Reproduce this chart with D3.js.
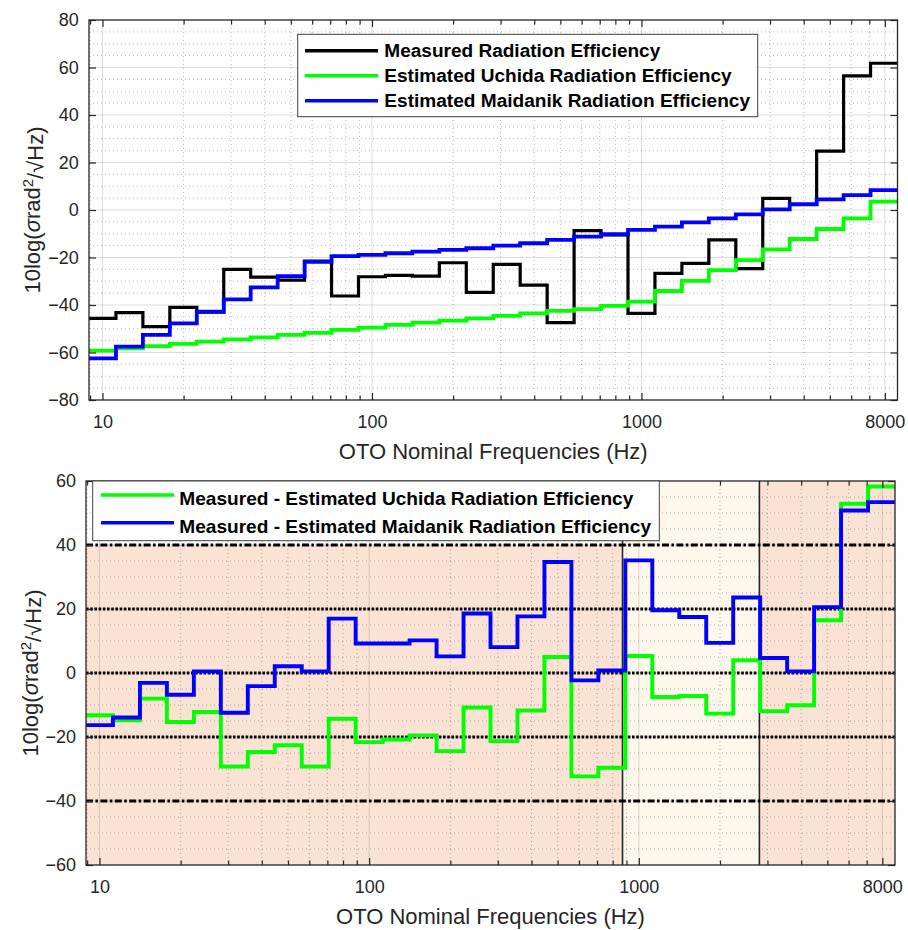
<!DOCTYPE html>
<html>
<head>
<meta charset="utf-8">
<script src="https://cdn.jsdelivr.net/npm/d3@7/dist/d3.min.js"></script>
<style>
  body { margin: 0; background: #fff; }
  svg { display: block; }
  text { font-family: "Liberation Sans", Arial, Helvetica, sans-serif; }
</style>
</head>
<body>
<svg id="chart" width="908" height="930"></svg>
<script>
// One-third octave bands (nominal centre frequencies, Hz)
const bands = ["10","12.5","16","20","25","31.5","40","50","63","80","100","125","160","200","250","315","400","500","630","800","1000","1250","1600","2000","2500","3150","4000","5000","6300","8000"];

// Upper panel: radiation efficiency, 10log(sigma) per band
const measured = [-45.6,-43.2,-49.1,-41.0,-43.0,-25.0,-28.3,-29.5,-21.5,-36.2,-28.1,-27.5,-27.8,-22.2,-34.7,-22.9,-31.6,-47.4,-8.7,-10.5,-43.5,-26.7,-22.5,-12.6,-24.7,4.9,2.3,24.8,56.5,61.8];
const uchida   = [-59.2,-58.2,-57.3,-56.4,-55.4,-54.5,-53.6,-52.6,-51.7,-50.5,-49.5,-48.4,-47.4,-46.6,-45.6,-44.6,-43.5,-42.5,-41.7,-40.4,-38.6,-34.1,-29.8,-25.3,-21.1,-16.6,-12.2,-8.0,-3.5,3.5];
const maidanik = [-62.5,-57.5,-52.6,-47.7,-42.8,-37.6,-32.6,-27.8,-21.8,-19.4,-18.9,-18.2,-17.5,-16.8,-16.1,-15.0,-14.0,-12.6,-11.2,-10.2,-8.4,-7.0,-5.2,-3.5,-1.8,0.3,2.5,4.5,6.3,8.4];

// Lower panel: differences per band
const diffUchida   = [-13.2,-14.8,-8.0,-15.3,-12.2,-29.2,-24.7,-22.6,-29.2,-14.3,-21.6,-20.8,-19.5,-24.4,-10.8,-21.3,-11.7,5.0,-32.3,-29.6,5.3,-7.5,-7.2,-12.7,4.0,-11.9,-10.1,16.5,52.9,58.3];
const diffMaidanik = [-16.3,-13.9,-3.1,-6.8,0.5,-12.4,-4.1,2.1,0.5,17.0,9.2,9.2,10.2,5.2,18.6,8.1,17.7,34.7,-2.3,0.8,35.2,19.6,17.5,9.4,23.6,4.7,0.5,20.6,50.8,53.4];

// Axis ticks
const xTickValues = [10, 100, 1000, 8000];
const topYTicks = [-80, -60, -40, -20, 0, 20, 40, 60, 80];
const bottomYTicks = [-60, -40, -20, 0, 20, 40, 60];

// Lower panel reference levels and frequency zones
const dottedLevels = [20, 0, -20];
const dashDotLevels = [40, -40];
const zoneLimits = [870, 2800];

const topLegend = ["Measured Radiation Efficiency", "Estimated Uchida Radiation Efficiency", "Estimated Maidanik Radiation Efficiency"];
const bottomLegend = ["Measured - Estimated Uchida Radiation Efficiency", "Measured - Estimated Maidanik Radiation Efficiency"];
const xTitle = "OTO Nominal Frequencies (Hz)";

const svg = d3.select("#chart");
const AX = "#262626";

// band i spans 10^(0.95 + i/10) .. 10^(1.05 + i/10)
const bandEdge = i => Math.pow(10, 0.95 + i / 10);
const stairs = vals => {
  const pts = vals.map((v, i) => [bandEdge(i), v]);
  pts.push([bandEdge(vals.length), vals[vals.length - 1]]);
  return pts;
};

function panel(cfg) {
  const { left, right, top, bottom, yDomain, yTicks } = cfg;
  const x = d3.scaleLog().domain([bandEdge(0), bandEdge(bands.length)]).range([left, right]);
  const y = d3.scaleLinear().domain(yDomain).range([bottom, top]);
  const g = svg.append("g");

  g.append("rect").attr("x", left).attr("y", top).attr("width", right - left).attr("height", bottom - top).attr("fill", "#fff");
  if (cfg.background) cfg.background(g, x, y);

  const minorX = x.ticks().filter(v => !xTickValues.includes(v));
  const minorY = y.ticks((yDomain[1] - yDomain[0]) / 5).filter(v => !yTicks.includes(v));

  const grid = g.append("g");
  grid.selectAll(".mx").data(minorX).join("line")
    .attr("x1", d => x(d)).attr("x2", d => x(d)).attr("y1", top).attr("y2", bottom)
    .attr("stroke", AX).attr("stroke-opacity", 0.32).attr("stroke-dasharray", "1,3");
  grid.selectAll(".my").data(minorY).join("line")
    .attr("x1", left).attr("x2", right).attr("y1", d => y(d)).attr("y2", d => y(d))
    .attr("stroke", AX).attr("stroke-opacity", 0.32).attr("stroke-dasharray", "1,3");
  grid.selectAll(".Mx").data(xTickValues).join("line")
    .attr("x1", d => x(d)).attr("x2", d => x(d)).attr("y1", top).attr("y2", bottom)
    .attr("stroke", AX).attr("stroke-opacity", 0.16);
  grid.selectAll(".My").data(yTicks.slice(1, -1)).join("line")
    .attr("x1", left).attr("x2", right).attr("y1", d => y(d)).attr("y2", d => y(d))
    .attr("stroke", AX).attr("stroke-opacity", 0.16);

  if (cfg.overlay) cfg.overlay(g, x, y);

  const line = d3.line().x(d => x(d[0])).y(d => y(d[1])).curve(d3.curveStepAfter);
  const clipId = "clip" + top;
  svg.append("clipPath").attr("id", clipId).append("rect")
    .attr("x", left).attr("y", top - 2).attr("width", right - left).attr("height", bottom - top + 4);
  const sg = g.append("g").attr("clip-path", `url(#${clipId})`);
  cfg.series.forEach(s => {
    sg.append("path").datum(stairs(s.values)).attr("d", line)
      .attr("fill", "none").attr("stroke", s.color).attr("stroke-width", s.width)
      .attr("stroke-linejoin", "miter");
  });

  // axes with inward ticks on all four sides
  const fmt = d3.format("d");
  const styleAxis = a => {
    a.attr("font-size", null).attr("font-family", null);
    a.select(".domain").remove();
    a.selectAll("line").attr("stroke", AX).attr("stroke-width", 1.2);
    a.selectAll("text").attr("fill", AX).style("font-size", "18px");
  };
  g.append("g").attr("transform", `translate(0,${bottom})`)
    .call(d3.axisBottom(x).tickValues(xTickValues).tickFormat(fmt).tickSizeInner(-7).tickSizeOuter(0).tickPadding(15.5)).call(styleAxis);
  g.append("g").attr("transform", `translate(0,${bottom})`)
    .call(d3.axisBottom(x).tickValues(minorX).tickFormat("").tickSizeInner(-4.5).tickSizeOuter(0)).call(styleAxis);
  g.append("g").attr("transform", `translate(0,${top})`)
    .call(d3.axisTop(x).tickValues(xTickValues).tickFormat("").tickSizeInner(-7).tickSizeOuter(0)).call(styleAxis);
  g.append("g").attr("transform", `translate(0,${top})`)
    .call(d3.axisTop(x).tickValues(minorX).tickFormat("").tickSizeInner(-4.5).tickSizeOuter(0)).call(styleAxis);
  g.append("g").attr("transform", `translate(${left},0)`)
    .call(d3.axisLeft(y).tickValues(yTicks).tickFormat(fmt).tickSizeInner(-7).tickSizeOuter(0).tickPadding(cfg.yPad)).call(styleAxis);
  g.append("g").attr("transform", `translate(${right},0)`)
    .call(d3.axisRight(y).tickValues(yTicks).tickFormat("").tickSizeInner(-7).tickSizeOuter(0)).call(styleAxis);

  g.append("rect").attr("x", left).attr("y", top).attr("width", right - left).attr("height", bottom - top)
    .attr("fill", "none").attr("stroke", AX).attr("stroke-width", 1.3);

  // axis titles
  g.append("text").attr("x", (left + right) / 2).attr("y", bottom + 59)
    .attr("text-anchor", "middle").attr("fill", AX).style("font-size", "22px").text(xTitle);
  const yl = g.append("text")
    .attr("transform", `translate(${cfg.yTitleX},${(top + bottom) / 2}) rotate(-90)`)
    .attr("text-anchor", "middle").attr("fill", AX).style("font-size", "22px");
  yl.append("tspan").text("10log(");
  yl.append("tspan").attr("font-style", "italic").text("σ");
  yl.append("tspan").text("rad");
  yl.append("tspan").attr("dy", "-0.45em").style("font-size", "15px").text("2");
  yl.append("tspan").attr("dy", "0.45em").text("/√Hz)");

  // legend
  const L = cfg.legend;
  const lg = g.append("g");
  lg.append("rect").attr("x", L.x).attr("y", L.y).attr("width", L.w).attr("height", L.h)
    .attr("fill", "#fff").attr("stroke", "#404040").attr("stroke-width", 1);
  L.items.forEach((it, i) => {
    const ly = L.row0 + i * L.step;
    lg.append("line").attr("x1", L.lx0).attr("x2", L.lx1).attr("y1", ly).attr("y2", ly)
      .attr("stroke", it.color).attr("stroke-width", 3.5);
    lg.append("text").attr("x", L.tx).attr("y", ly + L.baseline)
      .attr("font-weight", "bold").style("font-size", L.fontSize + "px").attr("fill", "#000")
      .attr("textLength", it.len).attr("lengthAdjust", "spacingAndGlyphs").text(it.label);
  });
}

// Upper panel
panel({
  left: 89, right: 897.5, top: 20, bottom: 400,
  yDomain: [-80, 80], yTicks: topYTicks, yPad: 10.3, yTitleX: 40,
  series: [
    { values: measured, color: "#000000", width: 3.2 },
    { values: uchida, color: "#00ff00", width: 3.8 },
    { values: maidanik, color: "#0000ff", width: 3.8 }
  ],
  legend: {
    x: 297.7, y: 34.3, w: 460, h: 82.4, row0: 50.7, step: 25,
    lx0: 305, lx1: 378, tx: 384.3, baseline: 6.5, fontSize: 17.5,
    items: [
      { label: topLegend[0], color: "#000000", len: 276 },
      { label: topLegend[1], color: "#00ff00", len: 347.4 },
      { label: topLegend[2], color: "#0000ff", len: 365.7 }
    ]
  }
});

// Lower panel
panel({
  left: 86, right: 895, top: 481, bottom: 865,
  yDomain: [-60, 60], yTicks: bottomYTicks, yPad: 10, yTitleX: 38,
  background: (g, x, y) => {
    const x0 = bandEdge(0), x1 = bandEdge(bands.length);
    g.append("rect").attr("x", x(x0)).attr("y", y(40)).attr("width", x(zoneLimits[0]) - x(x0)).attr("height", y(-60) - y(40)).attr("fill", "#fae3d4");
    g.append("rect").attr("x", x(zoneLimits[0])).attr("y", y(60)).attr("width", x(zoneLimits[1]) - x(zoneLimits[0])).attr("height", y(-60) - y(60)).attr("fill", "#fef8ec");
    g.append("rect").attr("x", x(zoneLimits[1])).attr("y", y(60)).attr("width", x(x1) - x(zoneLimits[1])).attr("height", y(-60) - y(60)).attr("fill", "#fae3d4");
  },
  overlay: (g, x, y) => {
    g.selectAll(".zl").data(zoneLimits).join("line")
      .attr("x1", d => x(d)).attr("x2", d => x(d)).attr("y1", y(60)).attr("y2", y(-60))
      .attr("stroke", AX).attr("stroke-width", 1.6);
    g.selectAll(".dl").data(dottedLevels).join("line")
      .attr("x1", x.range()[0]).attr("x2", x.range()[1]).attr("y1", d => y(d)).attr("y2", d => y(d))
      .attr("stroke", "#000").attr("stroke-width", 3).attr("stroke-dasharray", "2.6,1.6");
    g.selectAll(".ddl").data(dashDotLevels).join("line")
      .attr("x1", x.range()[0]).attr("x2", x.range()[1]).attr("y1", d => y(d)).attr("y2", d => y(d))
      .attr("stroke", "#000").attr("stroke-width", 3).attr("stroke-dasharray", "7,2.4,2.6,2.4");
  },
  series: [
    { values: diffUchida, color: "#00ff00", width: 3.9 },
    { values: diffMaidanik, color: "#0000ff", width: 3.9 }
  ],
  legend: {
    x: 92.7, y: 481, w: 566.6, h: 59.7, row0: 495, step: 27.7,
    lx0: 101, lx1: 174, tx: 179.3, baseline: 9.8, fontSize: 18.5,
    items: [
      { label: bottomLegend[0], color: "#00ff00", len: 454 },
      { label: bottomLegend[1], color: "#0000ff", len: 471.7 }
    ]
  }
});
</script>
</body>
</html>
